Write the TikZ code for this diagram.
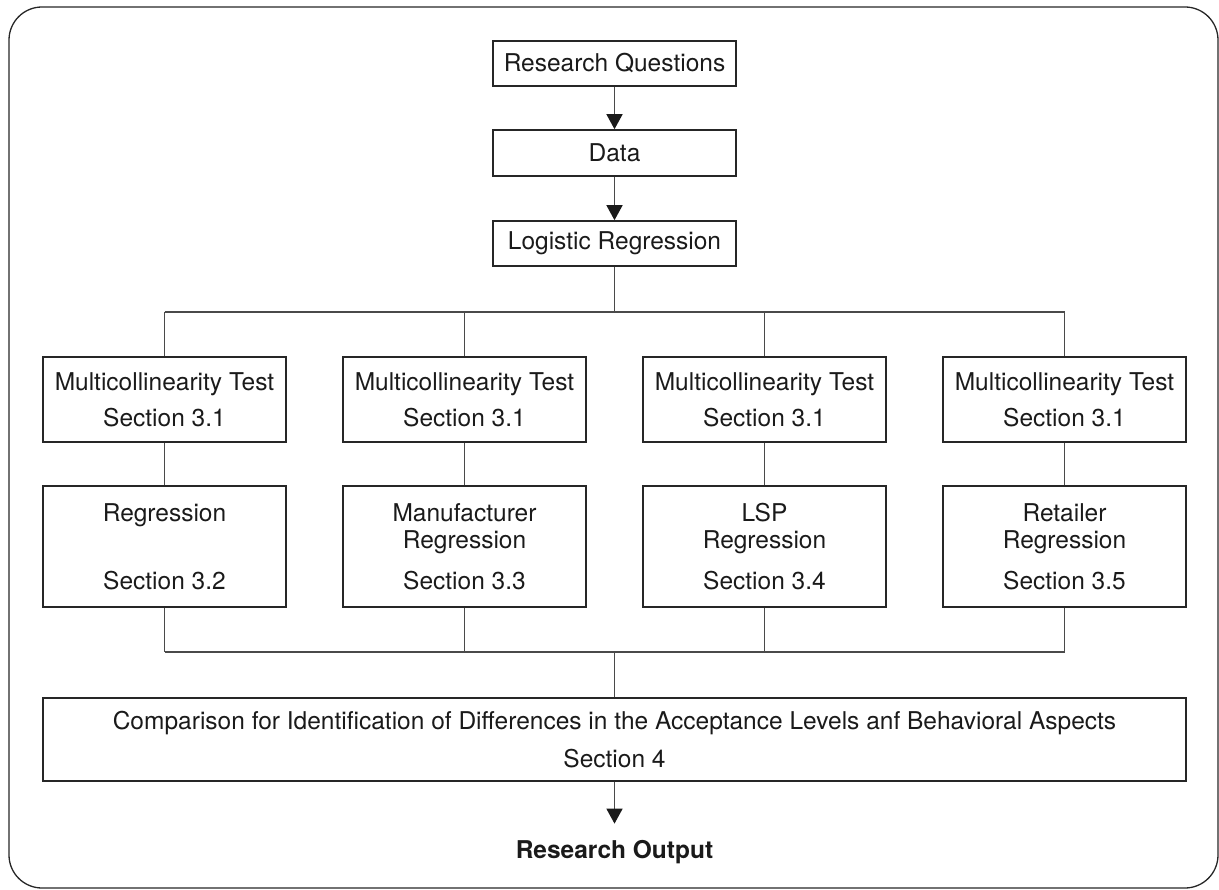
\documentclass[tikz,border=0pt]{standalone}
\usepackage{fontspec}
\setmainfont{TeX Gyre Heros}
\usetikzlibrary{arrows.meta}
\definecolor{boxline}{HTML}{262626}
\definecolor{conline}{HTML}{4A4A4A}
\definecolor{txt}{HTML}{1A1A1A}
\tikzset{
  box/.style={draw=boxline, line width=1.6pt, rectangle, minimum width=243pt, inner sep=0pt,
    align=center, text=txt, font=\fontsize{24.5}{36}\selectfont},
  conn/.style={draw=conline, line width=1.5pt},
  arr/.style={conn, -{Triangle[width=16pt,length=15pt,color=txt]}},
}
\begin{document}
\begin{tikzpicture}[x=1pt,y=-1pt]
\useasboundingbox (0,0) rectangle (1219,890);
\draw[draw=boxline, line width=1.3pt, rounded corners=33pt] (9,7) rectangle (1218,888);

\node[box, minimum height=45pt] (rq) at (614.5,63.5) {Research Questions};
\node[box, minimum height=46pt] (data) at (614.5,153) {Data};
\node[box, minimum height=45pt] (lr) at (614.5,243.5) {Logistic Regression};

\foreach \i/\x in {1/164.5,2/464.5,3/764.5,4/1064.5}{
  \node[box, minimum height=85pt] (m\i) at (\x,399.5) {Multicollinearity Test\\Section 3.1};
}
\tikzset{box2/.style={box, minimum height=121pt, font=\fontsize{24.5}{27}\selectfont}}
\node[box2] (r1) at (164.5,546.5) {Regression\\[41pt]Section 3.2};
\node[box2] (r2) at (464.5,546.5) {Manufacturer\\Regression\\[14pt]Section 3.3};
\node[box2] (r3) at (764.5,546.5) {LSP\\Regression\\[14pt]Section 3.4};
\node[box2] (r4) at (1064.5,546.5) {Retailer\\Regression\\[14pt]Section 3.5};

\node[box, minimum width=1143pt, minimum height=83pt, font=\fontsize{24.5}{38}\selectfont] (cmp) at (614.5,739.5)
  {Comparison for Identification of Differences in the Acceptance Levels anf Behavioral Aspects\\Section 4};

\node[anchor=base, inner xsep=0pt, inner ysep=16pt, text=txt, font=\fontsize{24.5}{28}\selectfont\bfseries] (out) at (614.5,858) {Research Output};

\coordinate (top) at (614.5,312);
\coordinate (bot) at (614.5,652);

\draw[arr] (rq) -- (data);
\draw[arr] (data) -- (lr);
\draw[conn] (lr.south) -- (top);
\draw[conn] (m1.north |- top) -- (m4.north |- top);
\foreach \i in {1,2,3,4}{
  \draw[conn] (m\i.north |- top) -- (m\i.north);
  \draw[conn] (m\i.south) -- (r\i.north);
  \draw[conn] (r\i.south) -- (r\i.south |- bot);
}
\draw[conn] (r1.south |- bot) -- (r4.south |- bot);
\draw[conn] (bot) -- (cmp.north);
\draw[arr] (cmp.south) -- (out.north);
\end{tikzpicture}
\end{document}
